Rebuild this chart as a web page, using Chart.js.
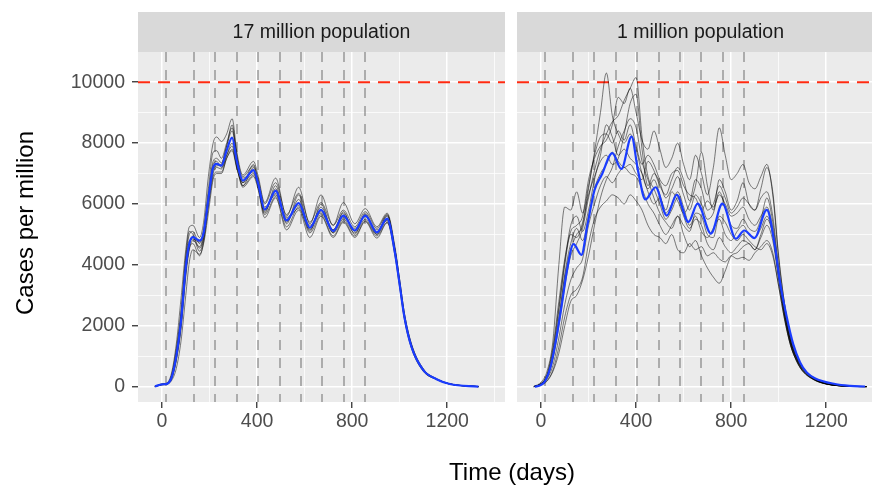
<!DOCTYPE html>
<html>
<head>
<meta charset="utf-8">
<script src="https://cdn.jsdelivr.net/npm/chart.js@4.4.1/dist/chart.umd.min.js"></script>
<style>
  html, body { margin: 0; padding: 0; width: 872px; height: 490px; overflow: hidden; background: #fff; }
  .panel { position: absolute; top: 0; height: 490px; }
  #leftBox { left: 0; width: 510px; }
  #rightBox { left: 517px; width: 367px; }
  .axtitle { position: absolute; font-family: "Liberation Sans", Arial, sans-serif; font-size: 24px;
             line-height: 28px; color: #000; white-space: nowrap; text-align: center; }
  #xTitle { left: 412px; top: 458px; width: 200px; }
  #yTitle { left: -125px; top: 209px; width: 300px; transform: rotate(-90deg); }
</style>
</head>
<body>
<div class="panel" id="leftBox"><canvas id="leftChart" width="510" height="490"></canvas></div>
<div class="panel" id="rightBox"><canvas id="rightChart" width="367" height="490"></canvas></div>
<div class="axtitle" id="xTitle">Time (days)</div>
<div class="axtitle" id="yTitle">Cases per million</div>
<script>
// facet labels
const PANELS = ["17 million population", "1 million population"];

// intervention days (grey dashed) and threshold (red dashed)
const VLINE_DAYS = [15, 135, 225, 315, 405, 495, 585, 675, 765, 855];
const THRESHOLD = 10000;

// grid breaks and labelled ticks
const X_GRID = [0, 200, 400, 600, 800, 1000, 1200, 1400];
const Y_GRID = [0, 1000, 2000, 3000, 4000, 5000, 6000, 7000, 8000, 9000, 10000];
const X_LABELS = [0, 400, 800, 1200];
const Y_LABELS = [0, 2000, 4000, 6000, 8000, 10000];

// ---- 17 million population ----
const L_DAYS = [-30, 0, 20, 40, 60, 80, 100, 115, 130, 158, 175, 195, 215, 230, 250, 272, 295, 315, 340, 385,
  405, 432, 478, 524, 575, 622, 669, 720, 763, 811, 855, 904, 947, 980, 1000, 1020, 1050, 1100, 1155, 1211, 1331];
const L_MEAN = [10, 80, 95, 300, 1000, 2150, 3920, 4700, 4910, 4800, 5050, 6150, 7200, 7320, 7260, 7760, 8180, 7400, 6770, 7110,
  6650, 5820, 6430, 5460, 6030, 5220, 5810, 5110, 5620, 5130, 5620, 5070, 5520, 4400, 3350, 2280, 1300, 540, 250, 90, 5];
const L_RUN1 = [10, 90, 120, 450, 1400, 2900, 4500, 5250, 5300, 4900, 5400, 6900, 8000, 8200, 8050, 8300, 8800, 7700, 6950, 7400,
  6900, 6050, 6850, 5600, 6550, 5350, 6300, 5300, 6050, 5350, 5850, 5250, 5700, 4600, 3500, 2400, 1380, 580, 260, 95, 5];
const L_RUN2 = [5, 60, 80, 200, 600, 1500, 3000, 4100, 4500, 4350, 4700, 5700, 6800, 7000, 7000, 7500, 7800, 7200, 6550, 6900,
  6450, 5550, 6200, 5150, 5800, 4900, 5600, 4900, 5400, 4900, 5420, 4880, 5380, 4500, 3500, 2400, 1400, 580, 265, 95, 5];
const L_RUN3 = [10, 85, 100, 350, 1150, 2400, 4200, 5000, 5100, 4700, 5100, 6300, 7400, 7500, 7350, 7900, 8600, 7600, 6700, 7300,
  6700, 5750, 6500, 5400, 6150, 5200, 5900, 5150, 5700, 5100, 5650, 5050, 5600, 4450, 3350, 2250, 1280, 510, 245, 88, 5];
const L_RUN4 = [10, 75, 90, 280, 950, 2050, 3800, 4600, 4950, 4550, 4900, 6000, 7000, 7200, 7150, 7600, 8000, 7300, 6850, 7050,
  6600, 5900, 6300, 5550, 5950, 5300, 5700, 5150, 5550, 5200, 5600, 5150, 5450, 4350, 3300, 2250, 1300, 530, 250, 90, 5];
const L_RUN5 = [8, 70, 85, 250, 850, 1900, 3600, 4500, 4800, 4600, 5000, 6200, 7100, 7250, 7300, 7900, 8400, 7500, 6600, 7200,
  6500, 5700, 6600, 5350, 6300, 5100, 6000, 5050, 5750, 5000, 5700, 5000, 5650, 4500, 3400, 2300, 1330, 540, 255, 92, 5];
const L_RUN6 = [10, 90, 110, 380, 1250, 2500, 4300, 5100, 5000, 4450, 4850, 6100, 7300, 7400, 7200, 7600, 7900, 7200, 6600, 6950,
  6550, 5650, 6250, 5250, 5900, 5050, 5650, 4950, 5450, 4950, 5450, 4950, 5400, 4300, 3250, 2200, 1250, 500, 240, 85, 5];
const L_RUN7 = [10, 80, 100, 320, 1050, 2250, 4000, 4800, 4850, 4750, 5150, 6500, 7700, 7750, 7500, 8000, 8500, 7550, 6900, 7250,
  6800, 6000, 6700, 5650, 6350, 5400, 6050, 5300, 5800, 5250, 5750, 5200, 5650, 4500, 3400, 2300, 1320, 530, 250, 90, 5];
const L_RUN8 = [10, 70, 90, 260, 900, 2000, 3750, 4550, 4700, 4300, 4750, 5900, 6900, 7050, 7050, 7500, 7750, 7150, 6700, 7000,
  6600, 5800, 6350, 5500, 5850, 5150, 5750, 5050, 5500, 5050, 5500, 5000, 5480, 4400, 3380, 2320, 1340, 545, 255, 92, 5];

// ---- 1 million population ----
const R_MEAN_DAYS = [-27, 0, 18, 40, 60, 88, 109, 137, 170, 195, 225, 255, 300, 338, 381, 408, 439, 482, 529, 571,
  620, 659, 715, 763, 820, 855, 898, 950, 984, 1005, 1034, 1061, 1090, 1118, 1152, 1237, 1300, 1363];
const R_MEAN = [0, 60, 200, 650, 1400, 2720, 3810, 4680, 4330, 5300, 6450, 6950, 7670, 7150, 8215, 7100, 6150, 6550, 5620, 6300,
  5410, 6010, 5030, 6010, 4860, 5130, 4880, 5805, 4620, 3450, 2280, 1400, 800, 470, 280, 90, 30, 8];
const R_DAYS = [-30, 0, 25, 50, 75, 100, 125, 150, 175, 200, 225, 250, 275, 300, 325, 350, 375, 400, 425, 450,
  475, 500, 525, 550, 575, 600, 625, 650, 675, 700, 725, 750, 775, 800, 825, 850, 875, 900, 925, 950,
  975, 1000, 1025, 1050, 1075, 1100, 1150, 1200, 1250, 1300, 1370];
const R_RUN1 = [10, 150, 500, 1500, 4000, 5900, 5800, 6400, 5700, 6600, 7600, 8200, 8300, 8000, 8400, 8100, 8600, 7900, 7300, 7600,
  7300, 6800, 6600, 7000, 7100, 6600, 6300, 6200, 5800, 6100, 5900, 6300, 6000, 5600, 5700, 5900, 5500, 5300, 5600, 5900,
  5200, 3700, 2400, 1500, 950, 600, 250, 100, 40, 15, 5];
const R_RUN2 = [5, 100, 350, 1000, 2200, 3600, 4500, 5000, 5300, 6500, 7700, 9000, 10300, 8900, 8300, 8000, 8300, 7800, 7000, 6500,
  6800, 6300, 5700, 6000, 6400, 5900, 5300, 5600, 5100, 4900, 5200, 5500, 5000, 4800, 5100, 5300, 5000, 4900, 5200, 5600,
  5000, 3600, 2300, 1400, 850, 520, 220, 90, 35, 12, 4];
const R_RUN3 = [5, 90, 300, 900, 2000, 3300, 4300, 4700, 5200, 6200, 7100, 7800, 8300, 8700, 8900, 9400, 9800, 10150, 8200, 6900,
  6500, 6000, 5500, 5800, 6200, 5600, 5200, 5500, 5300, 4700, 4500, 4900, 4600, 4400, 4600, 4800, 4700, 4500, 4900, 5300,
  4800, 3500, 2300, 1400, 900, 560, 240, 95, 38, 14, 5];
const R_RUN4 = [5, 110, 400, 1300, 2800, 4200, 5100, 5300, 5600, 6800, 7500, 7900, 8100, 8600, 9500, 9300, 9800, 9000, 8100, 7800,
  8400, 7800, 7200, 7500, 8000, 7300, 6800, 7600, 7000, 6300, 7200, 8500, 7600, 6800, 7000, 7300, 6700, 6500, 6900, 7300,
  6300, 4200, 2700, 1600, 1000, 650, 280, 110, 45, 15, 5];
const R_RUN5 = [5, 100, 350, 1100, 2500, 4000, 5000, 4900, 5400, 6300, 6900, 7400, 7600, 7300, 7500, 8300, 9300, 9600, 7800, 6600,
  7000, 6700, 6200, 6500, 6900, 6300, 5800, 6300, 6000, 5500, 5700, 6400, 5900, 5300, 5200, 5500, 5200, 5100, 5500, 6200,
  5400, 3800, 2500, 1500, 950, 600, 260, 100, 40, 14, 5];
const R_RUN6 = [5, 80, 250, 700, 1600, 2700, 3500, 3900, 4200, 5300, 6000, 6600, 6900, 6700, 7000, 7200, 7000, 6900, 6500, 6000,
  5700, 5300, 5000, 5300, 5600, 5000, 4600, 4800, 4300, 3900, 3600, 3400, 3800, 4300, 4400, 4600, 4700, 4500, 5000, 5500,
  5000, 3600, 2400, 1450, 900, 560, 240, 95, 38, 14, 5];
const R_RUN7 = [5, 70, 200, 550, 1300, 2300, 3000, 3200, 3600, 4700, 5500, 5900, 6100, 6300, 6200, 6000, 6300, 6100, 5800, 5300,
  5000, 4900, 4700, 5000, 4500, 4400, 4700, 4500, 4600, 4300, 4400, 4200, 4100, 4300, 4200, 4250, 4150, 4400, 4600, 4800,
  4400, 3300, 2200, 1350, 850, 520, 220, 90, 35, 12, 4];
const R_RUN8 = [5, 90, 300, 950, 2200, 3700, 4700, 5200, 4800, 5600, 6500, 7000, 7300, 7700, 7400, 7200, 7300, 7000, 6800, 7400,
  7100, 6600, 6300, 6800, 7200, 6800, 6100, 6800, 6500, 5800, 6000, 6600, 6200, 5700, 5900, 6200, 6000, 5800, 6200, 6400,
  5600, 3900, 2500, 1500, 950, 600, 250, 100, 40, 14, 5];
const R_RUN9 = [5, 60, 180, 500, 1100, 2000, 2800, 3000, 3500, 4300, 5300, 6200, 6800, 7200, 7900, 8400, 8800, 8500, 7400, 6800,
  6200, 5700, 5400, 5200, 5600, 5300, 5100, 5700, 5600, 5000, 4900, 5600, 5400, 5000, 4800, 5000, 4800, 4600, 4500, 4700,
  4300, 3300, 2200, 1350, 850, 530, 230, 90, 35, 12, 4];
const R_RUN10 = [5, 100, 380, 1200, 2600, 4100, 5300, 5600, 5100, 5800, 6800, 7600, 8600, 8200, 7600, 7800, 7500, 7300, 7000, 6400,
  6000, 6200, 5800, 6400, 6100, 5700, 6000, 6600, 7700, 6600, 5800, 6800, 6400, 5800, 6100, 6700, 6000, 5800, 6500, 7200,
  6400, 4300, 2700, 1600, 1000, 640, 280, 110, 45, 16, 5];

const FONT = '"Liberation Sans", Arial, sans-serif';
Chart.defaults.font.family = FONT;

function pts(days, vals) {
  return days.map((d, i) => ({ x: d, y: vals[i] }));
}

function runSet(days, vals) {
  return {
    data: pts(days, vals),
    borderColor: "rgba(0,0,0,0.5)",
    borderWidth: 1,
    pointRadius: 0,
    cubicInterpolationMode: "monotone",
    order: 1
  };
}

function meanSet(days, vals) {
  return {
    data: pts(days, vals),
    borderColor: "#1a3cff",
    borderWidth: 2.2,
    pointRadius: 0,
    cubicInterpolationMode: "monotone",
    order: 0
  };
}

// ggplot style panel: grey background, strip on top, dashed reference lines
function facetPlugin(label) {
  return {
    id: "facet",
    beforeDraw(chart) {
      const { ctx, chartArea: a } = chart;
      ctx.save();
      ctx.fillStyle = "#EBEBEB";
      ctx.fillRect(a.left, a.top, a.right - a.left, a.bottom - a.top);
      ctx.fillStyle = "#D9D9D9";
      ctx.fillRect(a.left, 12, a.right - a.left, a.top - 12);
      ctx.fillStyle = "#1A1A1A";
      ctx.font = "19.5px " + FONT;
      ctx.textAlign = "center";
      ctx.textBaseline = "middle";
      ctx.fillText(label, (a.left + a.right) / 2, (12 + a.top) / 2 + 1);
      ctx.restore();
    },
    beforeDatasetsDraw(chart) {
      const { ctx, chartArea: a, scales } = chart;
      ctx.save();
      ctx.beginPath();
      ctx.rect(a.left, a.top, a.right - a.left, a.bottom - a.top);
      ctx.clip();
      ctx.lineWidth = 2;
      ctx.strokeStyle = "rgba(120,120,120,0.55)";
      ctx.setLineDash([10, 8]);
      VLINE_DAYS.forEach(d => {
        const px = Math.round(scales.x.getPixelForValue(d));
        ctx.beginPath();
        ctx.moveTo(px, a.top);
        ctx.lineTo(px, a.bottom);
        ctx.stroke();
      });
      ctx.strokeStyle = "#ff2a10";
      ctx.setLineDash([12, 8]);
      const py = scales.y.getPixelForValue(THRESHOLD);
      ctx.beginPath();
      ctx.moveTo(a.left, py);
      ctx.lineTo(a.right, py);
      ctx.stroke();
      ctx.restore();
    }
  };
}

function makeChart(id, label, datasets, showY, rightPad) {
  const isMajorX = v => X_LABELS.includes(v);
  const isMajorY = v => Y_LABELS.includes(v);
  return new Chart(document.getElementById(id), {
    type: "line",
    data: { datasets },
    options: {
      responsive: false,
      animation: false,
      layout: { padding: { top: 52, left: 0, right: rightPad, bottom: 0 }, autoPadding: false },
      plugins: { legend: { display: false }, tooltip: { enabled: false } },
      scales: {
        x: {
          type: "linear",
          min: -101,
          max: 1443,
          border: { display: false },
          afterBuildTicks: s => { s.ticks = X_GRID.map(v => ({ value: v })); },
          afterFit: s => { s.height = 88; },
          grid: {
            color: "#FFFFFF",
            lineWidth: c => (isMajorX(c.tick.value) ? 1.5 : 0.75),
            tickColor: c => (isMajorX(c.tick.value) ? "#333333" : "rgba(0,0,0,0)"),
            tickLength: 6,
            tickWidth: 1.3
          },
          ticks: {
            autoSkip: false,
            maxRotation: 0,
            padding: 2,
            color: "#4D4D4D",
            font: { size: 19.5 },
            callback: v => (isMajorX(v) ? String(v) : "")
          }
        },
        y: {
          type: "linear",
          min: -500,
          max: 10990,
          border: { display: false },
          afterBuildTicks: s => { s.ticks = Y_GRID.map(v => ({ value: v })); },
          afterFit: s => { s.width = showY ? 138 : 0; },
          grid: {
            color: "#FFFFFF",
            lineWidth: c => (isMajorY(c.tick.value) ? 1.5 : 0.75),
            tickColor: c => (showY && isMajorY(c.tick.value) ? "#333333" : "rgba(0,0,0,0)"),
            tickLength: 6,
            tickWidth: 1.3
          },
          ticks: {
            display: showY,
            autoSkip: false,
            padding: 7,
            color: "#4D4D4D",
            font: { size: 19.5 },
            callback: v => (isMajorY(v) ? String(v) : "")
          }
        }
      }
    },
    plugins: [facetPlugin(label)]
  });
}

makeChart("leftChart", PANELS[0], [
  meanSet(L_DAYS, L_MEAN),
  runSet(L_DAYS, L_RUN1), runSet(L_DAYS, L_RUN2), runSet(L_DAYS, L_RUN3), runSet(L_DAYS, L_RUN4),
  runSet(L_DAYS, L_RUN5), runSet(L_DAYS, L_RUN6), runSet(L_DAYS, L_RUN7), runSet(L_DAYS, L_RUN8)
], true, 5);

makeChart("rightChart", PANELS[1], [
  meanSet(R_MEAN_DAYS, R_MEAN),
  runSet(R_DAYS, R_RUN1), runSet(R_DAYS, R_RUN2), runSet(R_DAYS, R_RUN3), runSet(R_DAYS, R_RUN4),
  runSet(R_DAYS, R_RUN5), runSet(R_DAYS, R_RUN6), runSet(R_DAYS, R_RUN7), runSet(R_DAYS, R_RUN8),
  runSet(R_DAYS, R_RUN9), runSet(R_DAYS, R_RUN10)
], false, 0);
</script>
</body>
</html>
